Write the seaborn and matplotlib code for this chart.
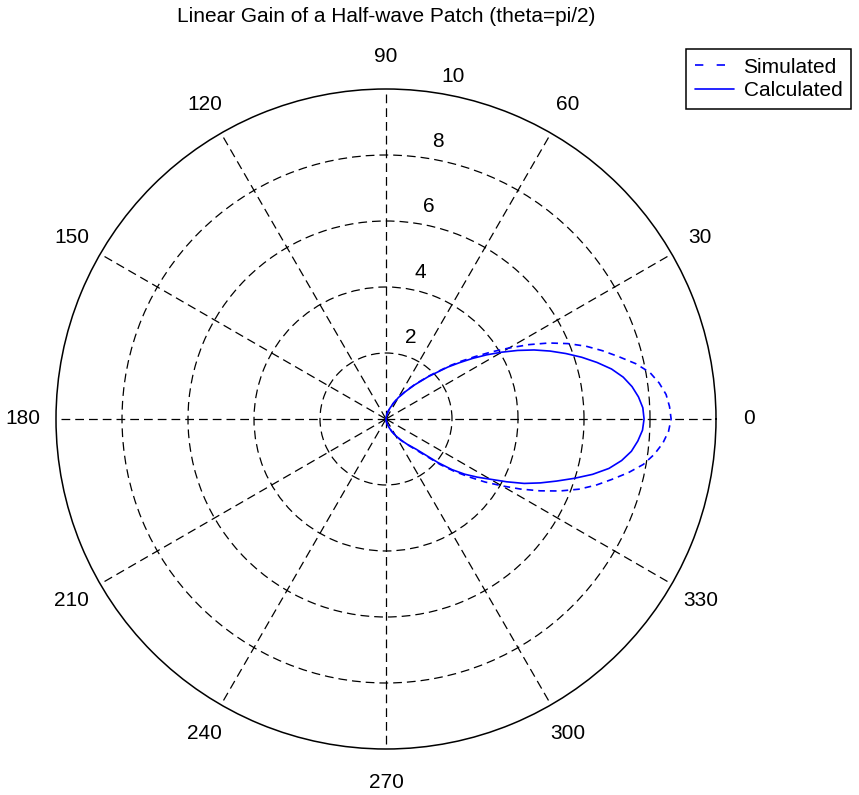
import numpy as np
import pandas as pd
import matplotlib
matplotlib.use("Agg")
import matplotlib.pyplot as plt
from matplotlib.lines import Line2D
import seaborn as sns

# Azimuth angles (degrees) of the pattern cut, theta = pi/2
angle_deg = [-90, -85, -80, -75, -70, -65, -60, -55, -50, -45,
             -40, -37.5, -35, -32.5, -30, -27.5, -25, -22.5, -20, -17.5,
             -15, -12.5, -10, -7.5, -5, -2.5, 0, 2.5, 5, 7.5,
             10, 12.5, 15, 17.5, 20, 22.5, 25, 27.5, 30, 32.5,
             35, 37.5, 40, 45, 50, 55, 60, 65, 70, 75,
             80, 85, 90]

# Linear gain, simulated model
gain_simulated = [0.00, 0.04, 0.10, 0.18, 0.28, 0.42, 0.58, 0.78, 1.02, 1.38,
                  2.15, 2.60, 3.05, 3.55, 4.05, 4.60, 5.15, 5.70, 6.22, 6.67,
                  7.08, 7.52, 7.92, 8.20, 8.42, 8.57, 8.64, 8.60, 8.52, 8.35,
                  8.12, 7.75, 7.30, 6.88, 6.45, 5.97, 5.45, 4.88, 4.30, 3.78,
                  3.30, 2.88, 2.50, 1.85, 1.38, 1.02, 0.76, 0.53, 0.36, 0.23,
                  0.12, 0.05, 0.00]

# Linear gain, calculated from the cavity model
gain_calculated = [0.00, 0.04, 0.10, 0.18, 0.28, 0.42, 0.58, 0.77, 1.00, 1.30,
                   2.05, 2.52, 2.92, 3.28, 3.65, 4.12, 4.62, 5.06, 5.50, 5.98,
                   6.48, 6.92, 7.25, 7.50, 7.66, 7.78, 7.82, 7.79, 7.68, 7.52,
                   7.30, 7.00, 6.62, 6.22, 5.80, 5.38, 4.95, 4.50, 4.05, 3.62,
                   3.20, 2.80, 2.45, 1.82, 1.35, 1.00, 0.75, 0.52, 0.35, 0.22,
                   0.12, 0.05, 0.00]

series_names = ["Simulated", "Calculated"]
radial_ticks = [2, 4, 6, 8, 10]
angle_ticks = [0, 30, 60, 90, 120, 150, 180, 210, 240, 270, 300, 330]
title_text = "Linear Gain of a Half-wave Patch (theta=pi/2)"

sns.set_style("white")
plt.rcParams["font.family"] = ["Liberation Sans", "DejaVu Sans"]
plt.rcParams["text.color"] = "black"

theta = np.deg2rad(angle_deg)
df = pd.concat([
    pd.DataFrame({"theta": theta, "gain": gain_simulated, "series": series_names[0]}),
    pd.DataFrame({"theta": theta, "gain": gain_calculated, "series": series_names[1]}),
], ignore_index=True)

fig = plt.figure(figsize=(8.59, 7.95), dpi=100)
fig.patch.set_facecolor("white")
ax = fig.add_axes([56 / 859, 46 / 795, 660 / 859, 660 / 795], projection="polar")
ax.set_facecolor("white")

rmax = radial_ticks[-1]
ax.set_ylim(0, rmax)
ax.set_rgrids(radial_ticks[:-1], labels=[])
ax.set_thetagrids(angle_ticks, labels=[])
ax.grid(True, color="black", linestyle=(0, (7, 4)), linewidth=0.9)
ax.tick_params(length=0)
ax.spines["polar"].set_color("black")
ax.spines["polar"].set_linewidth(1.1)

blue = "#0000ff"
sns.lineplot(data=df, x="theta", y="gain", hue="series", style="series",
             palette={series_names[0]: blue, series_names[1]: blue},
             dashes={series_names[0]: (4, 3), series_names[1]: ""},
             sort=False, estimator=None, linewidth=1.2, legend=False, ax=ax)
ax.set_xlabel("")
ax.set_ylabel("")

# angle labels just outside the outer ring
for deg in angle_ticks:
    ax.text(np.deg2rad(deg), 1.1 * rmax, str(deg), ha="center", va="center",
            fontsize=15, color="black", clip_on=False)

# radial labels along the 82 degree ray
for r in radial_ticks:
    ax.annotate(str(r), xy=(np.deg2rad(82), r + 0.017 * rmax),
                xytext=(9, 1), textcoords="offset pixels",
                ha="left", va="bottom", fontsize=15, color="black",
                annotation_clip=False)

fig.text(386 / 859, 1 - 17 / 795, title_text, ha="center", va="center",
         fontsize=15, color="black")

handles = [Line2D([], [], color=blue, linewidth=1.2, linestyle=(0, (5, 8))),
           Line2D([], [], color=blue, linewidth=1.2)]
leg = fig.legend(handles, series_names, loc="upper right",
                 bbox_to_anchor=(851 / 859, 1 - 49 / 795), fontsize=15,
                 frameon=True, fancybox=False, framealpha=1, edgecolor="black",
                 handlelength=1.9, handletextpad=0.45, borderpad=0.42,
                 labelspacing=0.22, borderaxespad=0)
leg.get_frame().set_linewidth(1.1)
for txt in leg.get_texts():
    txt.set_color("black")

fig.savefig("out.png", dpi=100, facecolor="white")
